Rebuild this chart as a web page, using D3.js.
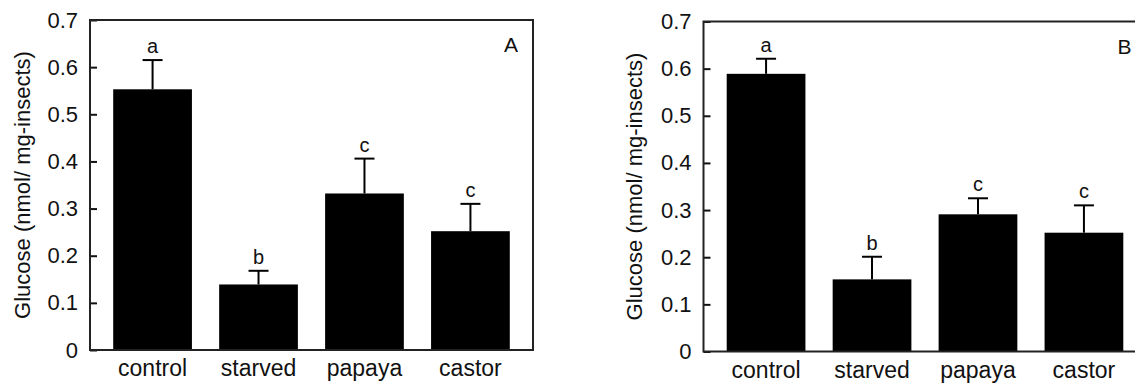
<!DOCTYPE html>
<html>
<head>
<meta charset="utf-8">
<script src="https://cdn.jsdelivr.net/npm/d3@7"></script>
<style>
  body { margin: 0; background: #fff; }
  svg text { font-family: "Liberation Sans", Arial, sans-serif; fill: #111; }
</style>
</head>
<body>
<svg id="chart" width="1135" height="383"></svg>
<script>
// data
const categories = ['control', 'starved', 'papaya', 'castor'];
const yTicks = [0, 0.1, 0.2, 0.3, 0.4, 0.5, 0.6, 0.7];

const meanA = [0.553, 0.139, 0.332, 0.252];
const errA = [0.062, 0.029, 0.074, 0.058];
const lettersA = ['a', 'b', 'c', 'c'];

const meanB = [0.589, 0.153, 0.291, 0.252];
const errB = [0.032, 0.048, 0.034, 0.058];
const lettersB = ['a', 'b', 'c', 'c'];

const svg = d3.select('#chart');
const plotW = 443;

function drawPanel(left, top, bottom, means, errs, letters, tag, titleX) {
  const g = svg.append('g');

  const x = d3.scaleBand()
    .domain(categories)
    .range([left, left + plotW])
    .paddingInner(0.257)
    .paddingOuter(0.219);

  const y = d3.scaleLinear()
    .domain([0, 0.7])
    .range([bottom, top]);

  const rows = categories.map((c, i) => ({ cat: c, mean: means[i], err: errs[i], letter: letters[i] }));

  // bars
  g.selectAll('.bar')
    .data(rows)
    .enter()
    .append('rect')
    .attr('class', 'bar')
    .attr('x', d => x(d.cat))
    .attr('y', d => y(d.mean))
    .attr('width', x.bandwidth())
    .attr('height', d => y(0) - y(d.mean))
    .attr('fill', '#000');

  // error bars (upper only)
  const cx = d => x(d.cat) + x.bandwidth() / 2;
  g.selectAll('.err')
    .data(rows)
    .enter()
    .append('line')
    .attr('x1', cx).attr('x2', cx)
    .attr('y1', d => y(d.mean))
    .attr('y2', d => y(d.mean + d.err))
    .attr('stroke', '#000')
    .attr('stroke-width', 2);

  g.selectAll('.cap')
    .data(rows)
    .enter()
    .append('line')
    .attr('x1', d => cx(d) - 10).attr('x2', d => cx(d) + 10)
    .attr('y1', d => y(d.mean + d.err))
    .attr('y2', d => y(d.mean + d.err))
    .attr('stroke', '#000')
    .attr('stroke-width', 2);

  // significance letters
  g.selectAll('.letter')
    .data(rows)
    .enter()
    .append('text')
    .attr('x', cx)
    .attr('y', d => y(d.mean + d.err) - 7)
    .attr('text-anchor', 'middle')
    .style('font-size', '20px')
    .text(d => d.letter);

  // y axis, ticks pointing inward
  const yaxis = d3.axisLeft(y)
    .tickValues(yTicks)
    .tickSizeInner(-7)
    .tickSizeOuter(0)
    .tickPadding(12)
    .tickFormat(d3.format(''));

  const ya = g.append('g')
    .attr('transform', `translate(${left},0)`)
    .call(yaxis);
  ya.select('.domain').remove();
  ya.selectAll('.tick line').attr('stroke', '#111').attr('stroke-width', 2);
  ya.selectAll('.tick text')
    .style('font-size', '22px')
    .attr('fill', '#111');

  // category labels
  const xaxis = d3.axisBottom(x).tickSize(0).tickPadding(10);
  const xa = g.append('g')
    .attr('transform', `translate(0,${bottom})`)
    .call(xaxis);
  xa.select('.domain').remove();
  xa.selectAll('.tick text').style('font-size', '23px').attr('fill', '#111');

  // frame
  g.append('rect')
    .attr('x', left)
    .attr('y', top)
    .attr('width', plotW)
    .attr('height', bottom - top)
    .attr('fill', 'none')
    .attr('stroke', '#222')
    .attr('stroke-width', 2);

  // panel tag
  g.append('text')
    .attr('x', left + plotW - 22)
    .attr('y', top + 32)
    .attr('text-anchor', 'middle')
    .style('font-size', '21px')
    .text(tag);

  // y title
  g.append('text')
    .attr('transform', `translate(${titleX},${(top + bottom) / 2}) rotate(-90)`)
    .attr('text-anchor', 'middle')
    .attr('dy', '0.35em')
    .style('font-size', '22px')
    .text('Glucose (nmol/ mg-insects)');
}

drawPanel(90, 20, 350, meanA, errA, lettersA, 'A', 22);
drawPanel(703.5, 21.5, 351.5, meanB, errB, lettersB, 'B', 634);
</script>
</body>
</html>
